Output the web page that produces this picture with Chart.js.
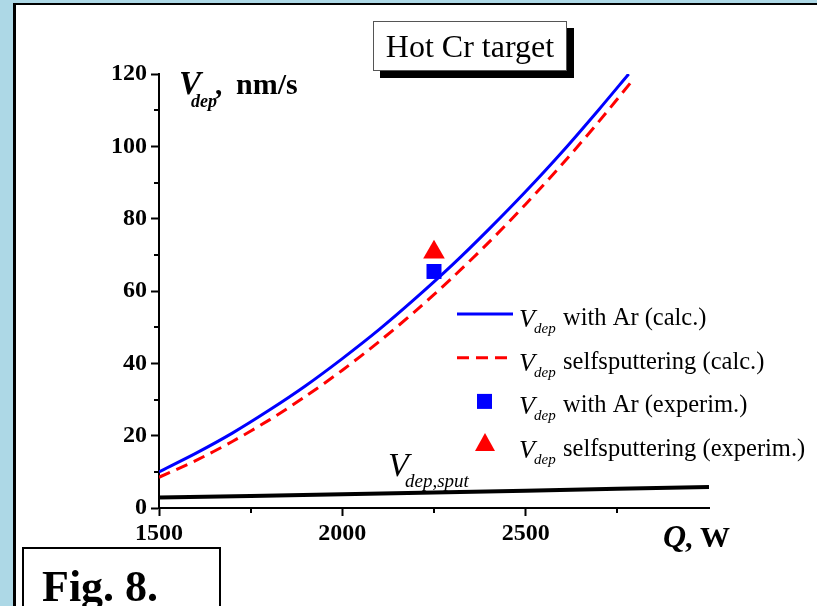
<!DOCTYPE html>
<html>
<head>
<meta charset="utf-8">
<title>Hot Cr target</title>
<script src="https://cdn.jsdelivr.net/npm/chart.js@4.4.1/dist/chart.umd.min.js"></script>
<style>
  html, body { margin: 0; padding: 0; background: #add8e6; }
  #chart { display: block; width: 817px; height: 606px; }
</style>
</head>
<body>
<canvas id="chart" width="817" height="606"></canvas>
<script>
// discharge power Q, W and deposition rate V_dep, nm/s
const powerAr = [1500, 1600, 1700, 1800, 1900, 2000, 2100, 2200, 2300, 2400, 2500, 2600, 2700, 2781];
const rateAr = [10.0, 15.1, 20.7, 27.0, 33.8, 41.3, 49.3, 58.0, 67.2, 77.1, 87.5, 98.5, 110.2, 120.0];
const powerSelf = [1500, 1600, 1700, 1800, 1900, 2000, 2100, 2200, 2300, 2400, 2500, 2600, 2700, 2792];
const rateSelf = [8.5, 13.1, 18.4, 24.3, 30.9, 38.1, 46.0, 54.5, 63.7, 73.5, 84.0, 95.1, 106.9, 118.3];
const powerSput = [1500, 2000, 2500, 3000];
const rateSput = [2.9, 3.8, 4.8, 5.8];
const powerExp = [2250];
const rateArExp = [65.4];
const rateSelfExp = [70.7];

const xTickLabels = [1500, 2000, 2500];
const xMinorTicks = [1750, 2250, 2750];
const yMinorTicks = [10, 30, 50, 70, 90, 110];
const legendLabels = ["with Ar (calc.)", "selfsputtering (calc.)", "with Ar (experim.)", "selfsputtering (experim.)"];

const SERIF = "'Liberation Serif', 'Times New Roman', serif";

const toPoints = (xs, ys) => xs.map((x, i) => ({ x: x, y: ys[i] }));

/**
 * Draw "V" with a "dep" subscript followed by plain text.
 */
const drawVdep = (ctx, x, y, opts) => {
  ctx.fillStyle = "#000";
  ctx.textBaseline = "alphabetic";
  ctx.textAlign = "left";
  ctx.font = opts.vFont;
  ctx.fillText("V", x, y);
  ctx.font = opts.subFont;
  ctx.fillText(opts.sub, x + opts.subDx, y + opts.subDy);
  if (opts.rest) {
    ctx.font = opts.restFont;
    ctx.fillText(opts.rest, x + opts.restDx, y + (opts.restDy || 0));
  }
};

const framePlugin = {
  id: "frame",
  beforeDraw(chart) {
    const ctx = chart.ctx;
    ctx.save();
    ctx.fillStyle = "#add8e6";
    ctx.fillRect(0, 0, 817, 606);
    ctx.fillStyle = "#000";
    ctx.fillRect(13, 3, 804, 603);
    ctx.fillStyle = "#fff";
    ctx.fillRect(16, 5, 801, 601);
    ctx.restore();
  },
  afterDraw(chart) {
    const ctx = chart.ctx;
    const xs = chart.scales.x;
    const ys = chart.scales.y;
    ctx.save();

    // minor ticks
    ctx.strokeStyle = "#000";
    ctx.lineWidth = 2;
    ctx.beginPath();
    yMinorTicks.forEach((v) => {
      const py = Math.round(ys.getPixelForValue(v));
      ctx.moveTo(xs.left - 5, py);
      ctx.lineTo(xs.left, py);
    });
    xMinorTicks.forEach((v) => {
      const px = Math.round(xs.getPixelForValue(v));
      ctx.moveTo(px, ys.bottom);
      ctx.lineTo(px, ys.bottom + 5);
    });
    ctx.stroke();

    // axis titles
    drawVdep(ctx, 179, 94, {
      vFont: "italic bold 33px " + SERIF,
      subFont: "italic bold 18px " + SERIF,
      sub: "dep", subDx: 12, subDy: 13,
      restFont: "bold 29px " + SERIF,
      rest: ",", restDx: 36
    });
    ctx.font = "bold 30px " + SERIF;
    ctx.fillText("nm/s", 236, 94);
    ctx.font = "italic bold 32px " + SERIF;
    ctx.fillText("Q", 663, 547);
    ctx.font = "bold 30px " + SERIF;
    ctx.fillText(", W", 685, 547);

    // sputtering label
    drawVdep(ctx, 388, 476, {
      vFont: "italic 34px " + SERIF,
      subFont: "italic 19px " + SERIF,
      sub: "dep,sput", subDx: 17, subDy: 11
    });

    // title box with shadow
    ctx.fillStyle = "#000";
    ctx.fillRect(380, 28, 194, 50);
    ctx.fillStyle = "#fff";
    ctx.fillRect(373, 21, 194, 50);
    ctx.strokeStyle = "#555";
    ctx.lineWidth = 1;
    ctx.strokeRect(373.5, 21.5, 193, 49);
    ctx.fillStyle = "#000";
    ctx.font = "32px " + SERIF;
    ctx.textAlign = "center";
    ctx.fillText("Hot Cr target", 470, 57);

    // legend
    legendLabels.forEach((label, i) => {
      const ds = chart.data.datasets[i];
      const cy = 314 + i * 43.7;
      ctx.save();
      if (ds.showLine === false) {
        ctx.fillStyle = ds.backgroundColor;
        if (ds.pointStyle === "rect") {
          ctx.fillRect(477, cy - 7.5, 15, 15);
        } else {
          ctx.beginPath();
          ctx.moveTo(485, cy - 12);
          ctx.lineTo(495, cy + 6);
          ctx.lineTo(475, cy + 6);
          ctx.closePath();
          ctx.fill();
        }
      } else {
        ctx.strokeStyle = ds.borderColor;
        ctx.lineWidth = ds.borderWidth;
        ctx.setLineDash(ds.borderDash || []);
        ctx.beginPath();
        ctx.moveTo(457, cy);
        ctx.lineTo(513, cy);
        ctx.stroke();
      }
      ctx.restore();
      drawVdep(ctx, 519, cy + 13, {
        vFont: "italic 26px " + SERIF,
        subFont: "italic 15px " + SERIF,
        sub: "dep", subDx: 15, subDy: 6,
        restFont: "24.5px " + SERIF,
        rest: label, restDx: 44, restDy: -2
      });
    });

    // figure caption box
    ctx.fillStyle = "#fff";
    ctx.fillRect(23, 548, 197, 70);
    ctx.strokeStyle = "#000";
    ctx.lineWidth = 2;
    ctx.strokeRect(23, 548, 197, 70);
    ctx.fillStyle = "#000";
    ctx.textAlign = "left";
    ctx.font = "bold 44px " + SERIF;
    ctx.fillText("Fig. 8.", 42, 601);

    ctx.restore();
  }
};

const tickFont = { family: SERIF, weight: "bold", size: 24 };

new Chart(document.getElementById("chart").getContext("2d"), {
  type: "line",
  data: {
    datasets: [
      {
        label: "Vdep with Ar (calc.)",
        data: toPoints(powerAr, rateAr),
        borderColor: "#0000ff",
        borderWidth: 3,
        pointRadius: 0,
        tension: 0.3,
        fill: false
      },
      {
        label: "Vdep selfsputtering (calc.)",
        data: toPoints(powerSelf, rateSelf),
        borderColor: "#ff0000",
        borderWidth: 3,
        borderDash: [12, 7],
        pointRadius: 0,
        tension: 0.3,
        fill: false
      },
      {
        label: "Vdep with Ar (experim.)",
        data: toPoints(powerExp, rateArExp),
        showLine: false,
        pointStyle: "rect",
        pointRadius: 10.6,
        pointBorderWidth: 0,
        backgroundColor: "#0000ff",
        borderColor: "#0000ff"
      },
      {
        label: "Vdep selfsputtering (experim.)",
        data: toPoints(powerExp, rateSelfExp),
        showLine: false,
        pointStyle: "triangle",
        pointRadius: 12.5,
        pointBorderWidth: 0,
        backgroundColor: "#ff0000",
        borderColor: "#ff0000"
      },
      {
        label: "Vdep,sput",
        data: toPoints(powerSput, rateSput),
        borderColor: "#000",
        borderWidth: 4,
        pointRadius: 0,
        tension: 0.2,
        fill: false
      }
    ]
  },
  options: {
    responsive: false,
    animation: false,
    layout: { padding: { left: 0, right: 108, top: 74, bottom: 48 } },
    plugins: {
      legend: { display: false },
      tooltip: { enabled: false }
    },
    scales: {
      x: {
        type: "linear",
        min: 1500,
        max: 3000,
        afterFit: (s) => { s.height = 50; },
        border: { display: true, color: "#000", width: 2 },
        grid: {
          drawOnChartArea: false,
          tickLength: 8,
          tickWidth: 2,
          color: (c) => (c.tick && c.tick.value === 3000 ? "rgba(0,0,0,0)" : "#000"),
          tickColor: (c) => (c.tick && c.tick.value === 3000 ? "rgba(0,0,0,0)" : "#000")
        },
        ticks: {
          stepSize: 500,
          padding: 3,
          color: "#000",
          font: tickFont,
          maxRotation: 0,
          callback: (v) => (xTickLabels.includes(v) ? String(v) : "")
        }
      },
      y: {
        min: 0,
        max: 120,
        afterFit: (s) => { s.width = 159; },
        border: { display: true, color: "#000", width: 2 },
        grid: {
          drawOnChartArea: false,
          tickLength: 8,
          tickWidth: 2,
          color: "#000",
          tickColor: "#000"
        },
        ticks: {
          stepSize: 20,
          padding: 4,
          color: "#000",
          font: tickFont
        }
      }
    }
  },
  plugins: [framePlugin]
});
</script>
</body>
</html>
